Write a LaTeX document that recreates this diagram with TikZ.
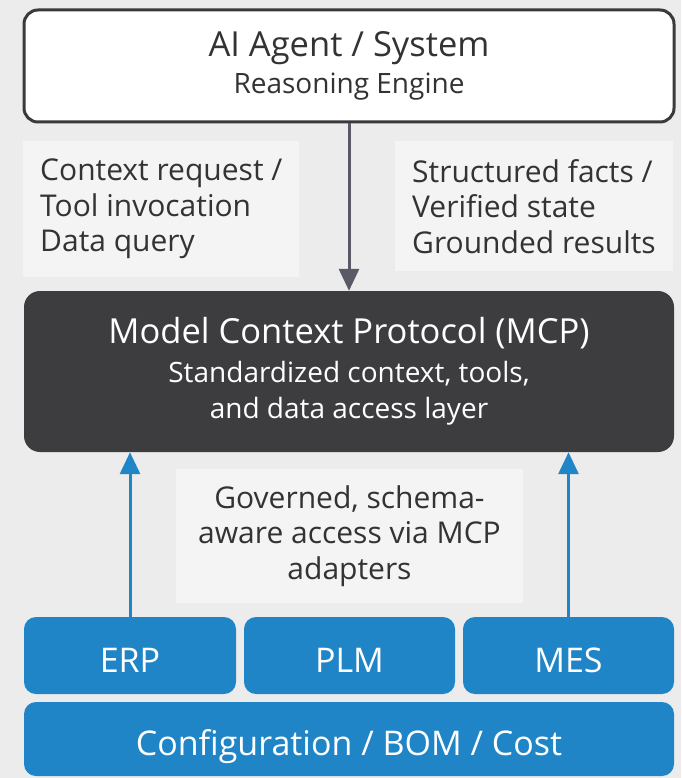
\documentclass[tikz,border=0pt]{standalone}
\usepackage{fontspec}
\setmainfont{Open Sans}
\usetikzlibrary{arrows.meta,positioning}
\definecolor{PageClr}{RGB}{236,236,236}
\definecolor{PanelClr}{RGB}{244,244,244}
\definecolor{TextClr}{RGB}{51,51,51}
\definecolor{AgentLineClr}{RGB}{58,58,60}
\definecolor{McpClr}{RGB}{61,61,64}
\definecolor{FlowClr}{RGB}{90,90,102}
\definecolor{SourceClr}{RGB}{31,133,199}

\begin{document}
\begin{tikzpicture}[x=1pt,y=-1pt,
  agentbox/.style={draw=AgentLineClr,line width=3pt,fill=white,rounded corners=14pt,
    minimum width=650pt,minimum height=112pt,align=center,text=TextClr,
    font=\fontsize{28}{38}\selectfont},
  mcpbox/.style={fill=McpClr,rounded corners=16pt,minimum width=650pt,
    minimum height=161pt,align=center,text=white,font=\fontsize{28}{36}\selectfont},
  srcbox/.style={fill=SourceClr,rounded corners=12pt,minimum height=77pt,
    text=white,text height=33pt,text depth=0pt,font=\fontsize{34}{40}\selectfont},
  flowlabel/.style={fill=PanelClr,text=TextClr,inner xsep=17pt,inner ysep=18pt,
    font=\fontsize{30}{35.5}\selectfont},
  downflow/.style={draw=FlowClr,line width=3pt,-{Triangle[length=22pt,width=20pt]}},
  upflow/.style={draw=SourceClr,line width=3pt,-{Triangle[length=22pt,width=20pt]}}]

\fill[PageClr] (0,0) rectangle (681,778);

% agent and protocol layer
\node[agentbox] (agent) at (349,66)
  {{\fontsize{34.5}{40}\selectfont AI Agent / System}\\[-1pt]
   Reasoning Engine};
\node[mcpbox] (mcp) at (349,371.5)
  {{\fontsize{34.5}{40}\selectfont Model Context Protocol (MCP)}\\[3pt]
   Standardized context, tools,\\
   and data access layer};

% enterprise sources
\node[srcbox,minimum width=212pt] (erp) at (130,655.5) {ERP};
\node[srcbox,minimum width=211pt] (plm) at (349.5,655.5) {PLM};
\node[srcbox,minimum width=211pt] (mes) at (568.5,655.5) {MES};
\node[srcbox,minimum width=650pt,minimum height=74pt] (cfg) at (349,739)
  {Configuration / BOM / Cost};

% labels
\node[flowlabel,align=left,anchor=north west] (request) at (23,141)
  {Context request /\\Tool invocation\\Data query};
\node[flowlabel,align=left,anchor=north west] (result) at (395,141)
  {Structured facts /\\Verified state\\Grounded results};
\node[flowlabel,align=center,inner xsep=22pt,inner ysep=16.5pt] (access) at (349.5,536)
  {Governed, schema-\\aware access via MCP\\adapters};

% flows
\draw[downflow] (agent.south) -- (mcp.north);
\draw[upflow] (erp.north) -- (erp.north |- mcp.south);
\draw[upflow] (mes.north) -- (mes.north |- mcp.south);

\end{tikzpicture}
\end{document}
